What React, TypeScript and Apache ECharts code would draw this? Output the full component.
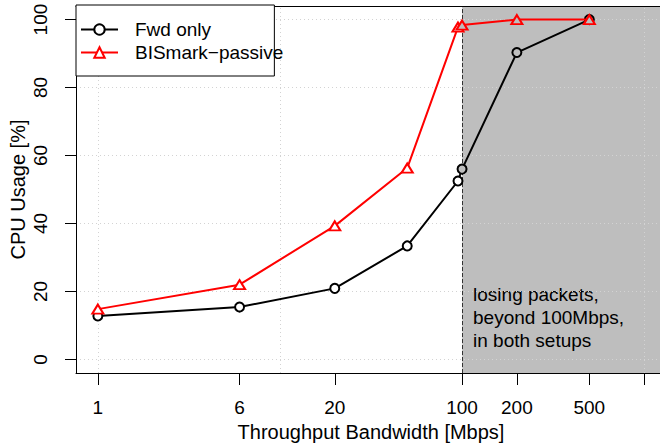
import React, { useEffect, useRef } from 'react';
import * as echarts from 'echarts';

// ---- data ----
const bandwidthMbps = [1, 6, 20, 50, 95, 100, 200, 500];
const fwdOnlyCpu = [12.8, 15.4, 20.9, 33.4, 52.5, 56.0, 90.3, 100];
const bismarkPassiveCpu = [14.8, 22.0, 39.3, 56.3, 97.8, 98.4, 100, 100];
const xTickValues = [1, 6, 20, 100, 200, 500, 1000];
const xLabelValues = [1, 6, 20, 100, 200, 500];
const xGridValues = [1, 10, 100, 1000];
const yTickValues = [0, 20, 40, 60, 80, 100];
const yGridValues = [0, 20, 40, 60, 80, 100];
const lossThresholdMbps = 100;
const seriesNames = ['Fwd only', 'BISmark\u2212passive'];
const annotationLines = ['losing packets,', 'beyond 100Mbps,', 'in both setups'];

const lg = (v: number) => Math.log10(v);
const X_MIN = -0.12;
const X_MAX = 3.12;
const Y_MIN = -4;
const Y_MAX = 104;
const FONT = '"Liberation Sans", Arial, Helvetica, sans-serif';
const GRAY = '#bebebe';

const points = (ys: number[]) =>
  bandwidthMbps.map((x, i) => ({
    value: [lg(x), ys[i]],
    itemStyle: { color: x >= lossThresholdMbps ? GRAY : '#ffffff' },
  }));

export default function App() {
  const ref = useRef<HTMLDivElement>(null);
  useEffect(() => {
    if (!ref.current) return;
    const chart = echarts.init(ref.current, undefined, { renderer: 'svg' });
    const baseAxis = {
      type: 'value' as const,
      min: X_MIN,
      max: X_MAX,
      splitLine: { show: false },
      z: 10,
    };
    chart.setOption({
      animation: false,
      textStyle: { fontFamily: FONT },
      grid: {
        left: 76,
        right: -6,
        top: 6,
        bottom: 72,
        containLabel: false,
        outerBoundsMode: 'none',
      },
      legend: {
        data: seriesNames,
        orient: 'vertical',
        left: 76,
        top: 5,
        z: 20,
        selectedMode: false,
        backgroundColor: '#ffffff',
        borderColor: '#000000',
        borderWidth: 1,
        borderRadius: 0,
        padding: [15, -9, 14, 4],
        itemGap: 4,
        itemWidth: 37,
        itemHeight: 13,
        textStyle: {
          fontSize: 19,
          lineHeight: 19,
          fontFamily: FONT,
          color: '#000',
          padding: [0, 0, 0, 12],
        },
      },
      xAxis: [
        {
          ...baseAxis,
          position: 'bottom',
          name: 'Throughput Bandwidth [Mbps]',
          nameLocation: 'middle',
          nameGap: 49,
          nameMoveOverlap: false,
          nameTextStyle: { fontSize: 20, color: '#000', fontFamily: FONT },
          axisLine: { show: true, onZero: false, lineStyle: { color: '#000', width: 1 } },
          axisTick: {
            show: true,
            length: 12,
            customValues: xTickValues.map(lg),
            lineStyle: { color: '#000', width: 1 },
          },
          axisLabel: {
            show: true,
            margin: 25,
            fontSize: 19,
            color: '#000',
            fontFamily: FONT,
            customValues: xLabelValues.map(lg),
            formatter: (v: number) => String(Math.round(Math.pow(10, v))),
          },
        },
        {
          ...baseAxis,
          position: 'top',
          axisLine: { show: true, onZero: false, lineStyle: { color: '#000', width: 1 } },
          axisTick: { show: false },
          axisLabel: { show: false },
        },
      ],
      yAxis: {
        type: 'value',
        min: Y_MIN,
        max: Y_MAX,
        z: 10,
        splitLine: { show: false },
        name: 'CPU Usage [%]',
        nameLocation: 'middle',
        nameGap: 48,
        nameMoveOverlap: false,
        nameTextStyle: { fontSize: 20, color: '#000', fontFamily: FONT },
        axisLine: { show: true, onZero: false, lineStyle: { color: '#000', width: 1 } },
        axisTick: {
          show: true,
          length: 11,
          customValues: yTickValues,
          lineStyle: { color: '#000', width: 1 },
        },
        axisLabel: {
          show: true,
          rotate: 90,
          margin: 26,
          fontSize: 19,
          color: '#000',
          fontFamily: FONT,
          customValues: yTickValues,
        },
      },
      series: [
        {
          type: 'line',
          z: 1,
          silent: true,
          data: [[X_MIN, Y_MIN]],
          symbol: 'none',
          lineStyle: { opacity: 0 },
          markArea: {
            silent: true,
            itemStyle: { color: GRAY },
            label: {
              show: true,
              position: 'insideBottomLeft',
              distance: 11,
              offset: [0, -10],
              fontSize: 19,
              lineHeight: 23,
              color: '#000',
              fontFamily: FONT,
              formatter: annotationLines.join('\n'),
            },
            data: [[{ xAxis: lg(lossThresholdMbps) }, { xAxis: X_MAX }]],
          },
        },
        {
          type: 'line',
          z: 2,
          silent: true,
          data: [[X_MIN, Y_MIN]],
          symbol: 'none',
          lineStyle: { opacity: 0 },
          markLine: {
            silent: true,
            symbol: ['none', 'none'],
            label: { show: false },
            lineStyle: { color: '#d3d3d3', type: [1, 3], width: 1 },
            data: [
              ...xGridValues.map((v) => ({ xAxis: lg(v) })),
              ...yGridValues.map((v) => ({ yAxis: v })),
            ],
          },
        },
        {
          type: 'line',
          z: 3,
          silent: true,
          data: [[X_MIN, Y_MIN]],
          symbol: 'none',
          lineStyle: { opacity: 0 },
          markLine: {
            silent: true,
            symbol: ['none', 'none'],
            label: { show: false },
            lineStyle: { color: '#333', type: [4, 2], width: 1 },
            data: [{ xAxis: lg(lossThresholdMbps) }],
          },
        },
        {
          name: seriesNames[0],
          type: 'line',
          z: 5,
          data: points(fwdOnlyCpu),
          symbol: 'circle',
          symbolSize: 9,
          itemStyle: { color: '#ffffff', borderColor: '#000000', borderWidth: 2 },
          lineStyle: { color: '#000000', width: 2 },
          emphasis: { disabled: true },
        },
        {
          name: seriesNames[1],
          type: 'line',
          z: 6,
          data: points(bismarkPassiveCpu),
          symbol: 'triangle',
          symbolSize: [11, 9],
          itemStyle: { color: '#ffffff', borderColor: '#ff0000', borderWidth: 2 },
          lineStyle: { color: '#ff0000', width: 2 },
          emphasis: { disabled: true },
        },
      ],
    });
    return () => chart.dispose();
  }, []);
  return (
    <div
      ref={ref}
      style={{ position: 'absolute', left: 0, top: 0, width: 660, height: 445 }}
    />
  );
}
